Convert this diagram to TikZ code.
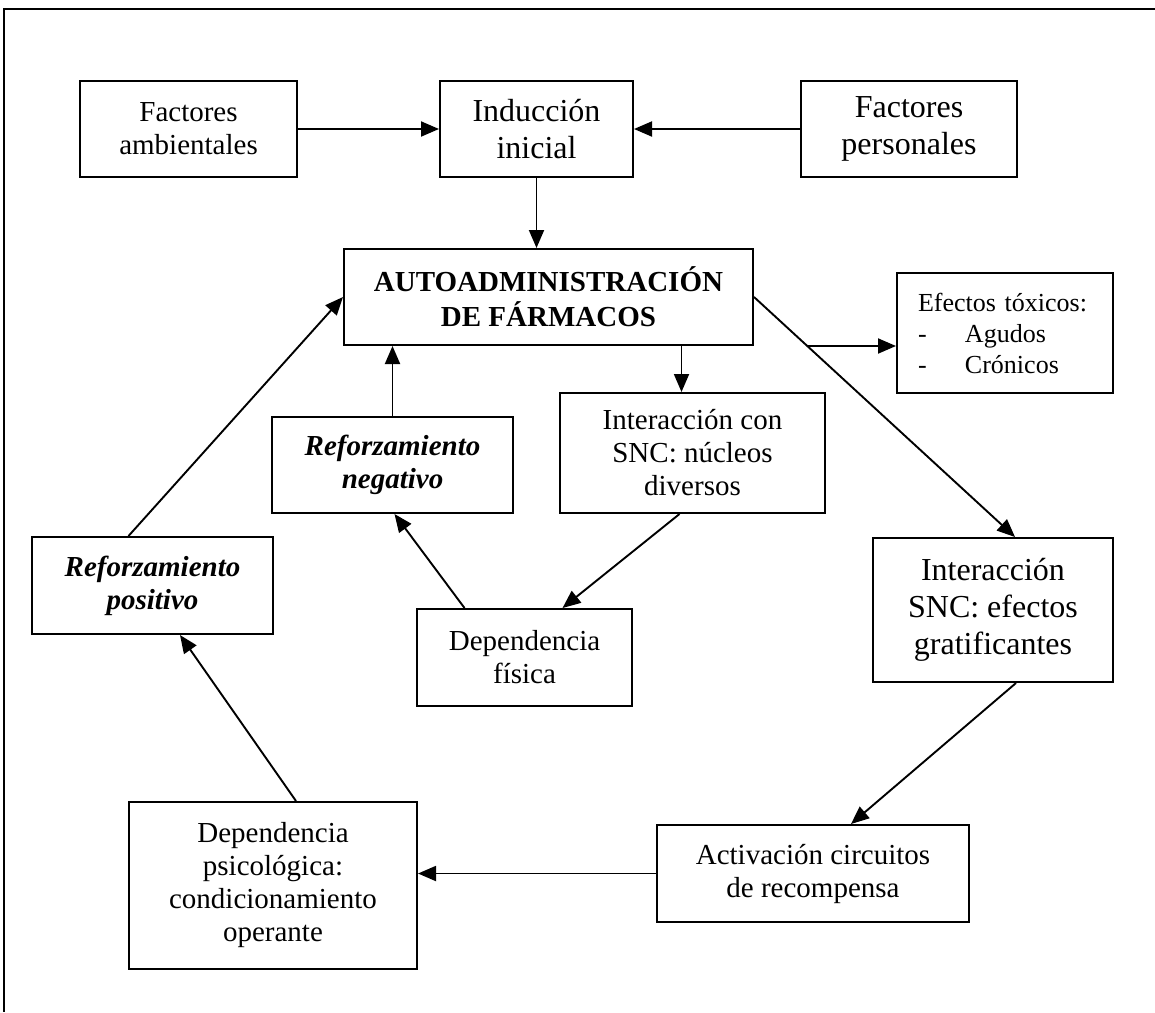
\documentclass[tikz,border=0pt]{standalone}
\usepackage{fontspec}
\setmainfont{Liberation Serif}
\usetikzlibrary{arrows.meta,calc}

\tikzset{
  box/.style={draw, line width=2pt, inner sep=0pt, align=center,
              font=\fontsize{29}{33}\selectfont},
  bigtext/.style={font=\fontsize{32}{37}\selectfont},
  smalltext/.style={font=\fontsize{26}{31}\selectfont},
  boldtext/.style={font=\fontsize{29}{35}\selectfont\bfseries},
  bitext/.style={font=\fontsize{29}{33}\selectfont\bfseries\itshape},
  arr/.style={line width=1.9pt, -{Triangle[length=18pt,width=15pt]}},
  frame/.style={line width=2pt},
}

\begin{document}
\begin{tikzpicture}[x=1pt,y=-1pt]
  \useasboundingbox (0,0) rectangle (1155,1012);

  % page frame (top and left edges)
  \draw[frame] (1155,9) -- (4,9) -- (4,1012);

  % boxes
  \node[box, minimum width=217pt, minimum height=96pt] (amb) at (188.5,129) {Factores\\ambientales};
  \node[box, bigtext, minimum width=193pt, minimum height=96pt] (ind) at (536.5,129) {Inducción\\inicial};
  \node[box, bigtext, minimum width=216pt, minimum height=96pt] (pers) at (909,129) {Factores\\personales};
  \node[box, boldtext, minimum width=409pt, minimum height=96pt] (auto) at (548.5,297) {AUTOADMINISTRACIÓN\\DE FÁRMACOS};
  \node[box, smalltext, minimum width=216pt, minimum height=120pt, text width=174pt, align=left] (efx) at (1005,333)
    {Efectos tóxicos:\\\makebox[47pt][l]{-}Agudos\\\makebox[47pt][l]{-}Crónicos};
  \node[box, minimum width=265pt, minimum height=120pt] (int1) at (692.5,453) {Interacción con\\SNC: núcleos\\diversos};
  \node[box, bitext, minimum width=241pt, minimum height=96pt] (neg) at (392.5,465) {Reforzamiento\\negativo};
  \node[box, bitext, minimum width=241pt, minimum height=97pt] (pos) at (152.5,585.5) {Reforzamiento\\positivo};
  \node[box, minimum width=215pt, minimum height=97pt] (depfis) at (524.5,657.5) {Dependencia\\física};
  \node[box, bigtext, minimum width=240pt, minimum height=144pt] (int2) at (993,610) {Interacción\\SNC: efectos\\gratificantes};
  \node[box, minimum width=312pt, minimum height=97pt] (act) at (813,873.5) {Activación circuitos\\de recompensa};
  \node[box, minimum width=288pt, minimum height=167pt] (dpsic) at (273,885.5) {Dependencia\\psicológica:\\condicionamiento\\operante};

  % connectors
  \draw[arr] (amb.east) -- (ind.west);
  \draw[arr] (pers.west) -- (ind.east);
  \draw[arr] (ind.south) -- (ind.south |- auto.north);
  \draw[arr] ($(auto.south -| int1.north)+(-11,0)$) -- ($(int1.north)+(-11,0)$);
  \draw[arr] (neg.north) -- (neg.north |- auto.south);
  \draw[arr] ($(pos.north)+(-24,0)$) -- (auto.west);
  \draw[arr] ($(int1.south)+(-13,0)$) -- ($(depfis.north)+(38,0)$);
  \draw[arr] ($(depfis.north)+(-60,0)$) -- ($(neg.south)+(2,0)$);

  \coordinate (ae) at (auto.east);
  \coordinate (ase) at (auto.south east);
  \coordinate (g) at ($(int2.north)+(22,0)$);
  \coordinate (hx) at (efx.west |- auto.south);
  \draw[arr] (ae) -- (g);
  \coordinate (br) at (intersection of ae--g and ase--hx);
  \draw[arr] (br) -- (hx);

  \draw[arr] ($(int2.south)+(23,0)$) -- ($(act.north)+(38,0)$);
  \draw[arr] (act.west) -- (act.west -| dpsic.east);
  \draw[arr] ($(dpsic.north)+(23,0)$) -- ($(pos.south)+(27.5,0)$);
\end{tikzpicture}
\end{document}
